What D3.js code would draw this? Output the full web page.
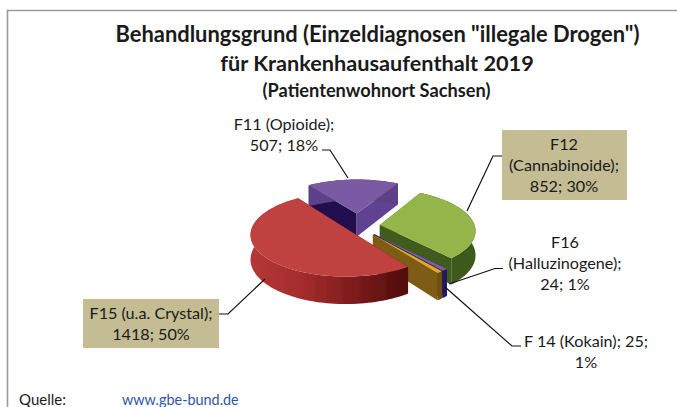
<!DOCTYPE html>
<html><head><meta charset="utf-8">
<script src="https://cdn.jsdelivr.net/npm/d3@7"></script>
<style>html,body{margin:0;padding:0;background:#fff;overflow:hidden}svg{display:block}text{font-family:Lato,"Open Sans",sans-serif;fill:#1a1a1a}</style>
</head><body><svg id="c" width="677" height="407"></svg>
<script>
const categories = ["F11 (Opioide)", "F12 (Cannabinoide)", "F16 (Halluzinogene)", "F 14 (Kokain)", "F15 (u.a. Crystal)"];
const values = [507, 852, 24, 25, 1418];
const percents = [18, 30, 1, 1, 50];
const titleLines = ['Behandlungsgrund (Einzeldiagnosen "illegale Drogen")', 'für Krankenhausaufenthalt 2019'];
const subtitle = '(Patientenwohnort Sachsen)';

const svg = d3.select('#c');
const W = 677, H = 407, deg = Math.PI / 180;
const O = {x: 358, y: 226}, R = 95, ky = 0.43, depth = 24, D = 800;
const explode = [30, 22, 24, 24, 13];
const tops  = ['#7a5aa2', '#94b548', '#7b5fa8', '#e3ab22', '#bf423f'];
const arcW  = ['#5c4088', '#3e5a1b', '#221c5c', '#6f5012', 'url(#redWall)'];
const startW= ['#22104e', '#4a6a20', '#221c5c', '#6f5012', '#560d0d'];
const endW  = ['#5f4392', '#3f5c1c', '#221c5c', '#7d5c14', '#560d0d'];

const defs = svg.append('defs');
const g = defs.append('linearGradient').attr('id','redWall').attr('gradientUnits','userSpaceOnUse')
  .attr('x1',250).attr('x2',405).attr('y1',0).attr('y2',0);
[[0,'#b53636'],[0.35,'#a32c2c'],[0.7,'#7a1a1a'],[1,'#520c0c']].forEach(s=>g.append('stop').attr('offset',s[0]).attr('stop-color',s[1]));
defs.append('filter').attr('id','soft').append('feGaussianBlur').attr('stdDeviation',0.45);

// frame
svg.append('path').attr('d',`M7.5,${H}V10.5H${W}`).attr('fill','none').attr('stroke','#9a9a9a').attr('stroke-width',1.6);

// titles
const tt = svg.append('g').attr('text-anchor','middle').attr('font-weight',700);
tt.append('text').attr('x',377.5).attr('y',42).attr('font-size',21.9).text(titleLines[0]);
tt.append('text').attr('x',377).attr('y',71).attr('font-size',21.7).text(titleLines[1]);
tt.append('text').attr('x',376.5).attr('y',97).attr('font-size',18.2).text(subtitle);

// pie
const pie = d3.pie().value(d=>d).sort(null).startAngle(325*deg).endAngle(685*deg);
const arcs = pie(values);
function proj(theta, r, z, d, mid){
  const x = r*Math.sin(theta) + d*Math.sin(mid);
  const y = -r*Math.cos(theta) - d*Math.cos(mid);
  const f = 1/(1 - y/D);
  return [O.x + x*f, O.y + (y*ky + z)*f];
}
const line = d3.line();
const pg = svg.append('g').attr('filter','url(#soft)');
arcs.forEach((a,i)=>{
  const mid = (a.startAngle+a.endAngle)/2, d = explode[i];
  const n = Math.max(2, Math.ceil((a.endAngle-a.startAngle)/(2*deg)));
  const th = d3.range(n+1).map(k=>a.startAngle+(a.endAngle-a.startAngle)*k/n);
  const wall = (t)=> [proj(t,0,0,d,mid),proj(t,R,0,d,mid),proj(t,R,depth,d,mid),proj(t,0,depth,d,mid)];
  pg.append('path').attr('d',line(wall(a.startAngle))+'Z').attr('fill',startW[i]);
  pg.append('path').attr('d',line(wall(a.endAngle))+'Z').attr('fill',endW[i]);
  const ow = th.map(t=>proj(t,R,0,d,mid)).concat(th.slice().reverse().map(t=>proj(t,R,depth,d,mid)));
  pg.append('path').attr('d',line(ow)+'Z').attr('fill',arcW[i]);
  const top = [proj(0,0,0,d,mid)].concat(th.map(t=>proj(t,R,0,d,mid)));
  pg.append('path').attr('d',line(top)+'Z').attr('fill',tops[i]);
});

// leaders
const leaders = [
  [[322,150],[330,150],[348,178]],
  [[502,156],[493,156],[467,211]],
  [[503,268.5],[495,268.5],[449,284]],
  [[521,346],[512,346],[445,287]],
  [[219,314],[228,314],[265,279]]
];
leaders.forEach(l=>svg.append('path').attr('d',line(l)).attr('fill','none').attr('stroke','#111').attr('stroke-width',1.2));

// boxes
[[502,130,125,70],[83,299,136,49]].forEach(b=>svg.append('rect').attr('x',b[0]).attr('y',b[1]).attr('width',b[2]).attr('height',b[3]).attr('fill','#c4bc92'));

// labels
const labelBlocks = [
  {x:284,y:[130,151],t:[categories[0]+';',`${values[0]}; ${percents[0]}%`]},
  {x:564,y:[150,171,192],t:['F12','(Cannabinoide);',`${values[1]}; ${percents[1]}%`]},
  {x:565,y:[248,269,290],t:['F16','(Halluzinogene);',`${values[2]}; ${percents[2]}%`]},
  {x:586,y:[347,368],t:[`${categories[3]}; ${values[3]};`,`${percents[3]}%`]},
  {x:151,y:[319,340],t:[categories[4]+';',`${values[4]}; ${percents[4]}%`]}
];
labelBlocks.forEach(b=>b.t.forEach((s,i)=>svg.append('text').attr('x',b.x).attr('y',b.y[i]).attr('text-anchor','middle').attr('font-size',16.2).text(s)));

svg.append('text').attr('x',19).attr('y',405).attr('font-size',15).text('Quelle:');
svg.append('text').attr('x',122).attr('y',405).attr('font-size',14.4).style('fill','#2f56a6').text('www.gbe-bund.de');
</script></body></html>
